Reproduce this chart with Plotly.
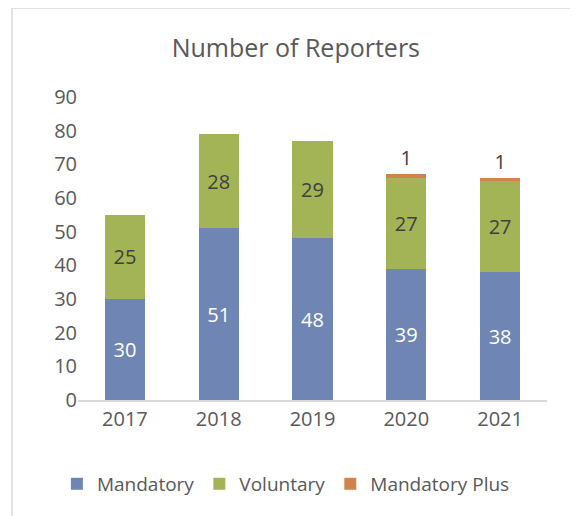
import plotly.graph_objects as go

years = ["2017", "2018", "2019", "2020", "2021"]
mandatory = [30, 51, 48, 39, 38]
voluntary = [25, 28, 29, 27, 27]
mandatory_plus = [None, None, None, 1, 1]

FONT = "Open Sans"
fig = go.Figure()
fig.add_trace(go.Bar(name="Mandatory", x=years, y=mandatory, marker_color="#6F86B4",
                     text=mandatory, textposition="inside", insidetextanchor="middle",
                     textfont=dict(color="white", size=20, family=FONT)))
fig.add_trace(go.Bar(name="Voluntary", x=years, y=voluntary, marker_color="#A3B456",
                     text=voluntary, textposition="inside", insidetextanchor="middle",
                     textfont=dict(color="#404040", size=20, family=FONT)))
fig.add_trace(go.Bar(name="Mandatory Plus", x=years, y=mandatory_plus, marker_color="#D0834A",
                     text=mandatory_plus, textposition="outside", cliponaxis=False,
                     textfont=dict(color="#404040", size=20, family=FONT)))

fig.update_traces(marker_line_width=0, textangle=0)
fig.update_layout(
    barmode="stack",
    bargap=0.57,
    width=578, height=516,
    margin=dict(l=70, r=39, t=89, b=124, autoexpand=False),
    paper_bgcolor="white", plot_bgcolor="white",
    font=dict(family=FONT, color="#595959", size=20),
    uniformtext=dict(mode=False),
    title=dict(text="Number of Reporters", x=0.498, xanchor="center", y=1 - 40 / 516, yanchor="middle",
               font=dict(size=25, color="#595959", family=FONT)),
    xaxis=dict(showgrid=False, showline=True, linecolor="#D9D9D9", linewidth=1.5, ticks="",
               tickfont=dict(size=20, color="#595959")),
    yaxis=dict(range=[0, 90], dtick=10, showgrid=False, showline=False, zeroline=False,
               ticks="", tickfont=dict(size=20, color="#595959")),
    legend=dict(orientation="h", x=-0.045, xanchor="left", y=-0.277, yanchor="middle",
                font=dict(size=19, color="#595959"), traceorder="normal", itemwidth=30),
    shapes=[dict(type="rect", xref="paper", yref="paper", x0=-0.1407, x1=1.062, y0=-0.42, y1=1.2937,
                 line=dict(color="#D9D9D9", width=1.5), fillcolor="rgba(0,0,0,0)", layer="below")],
)
fig.write_html("out.html")
